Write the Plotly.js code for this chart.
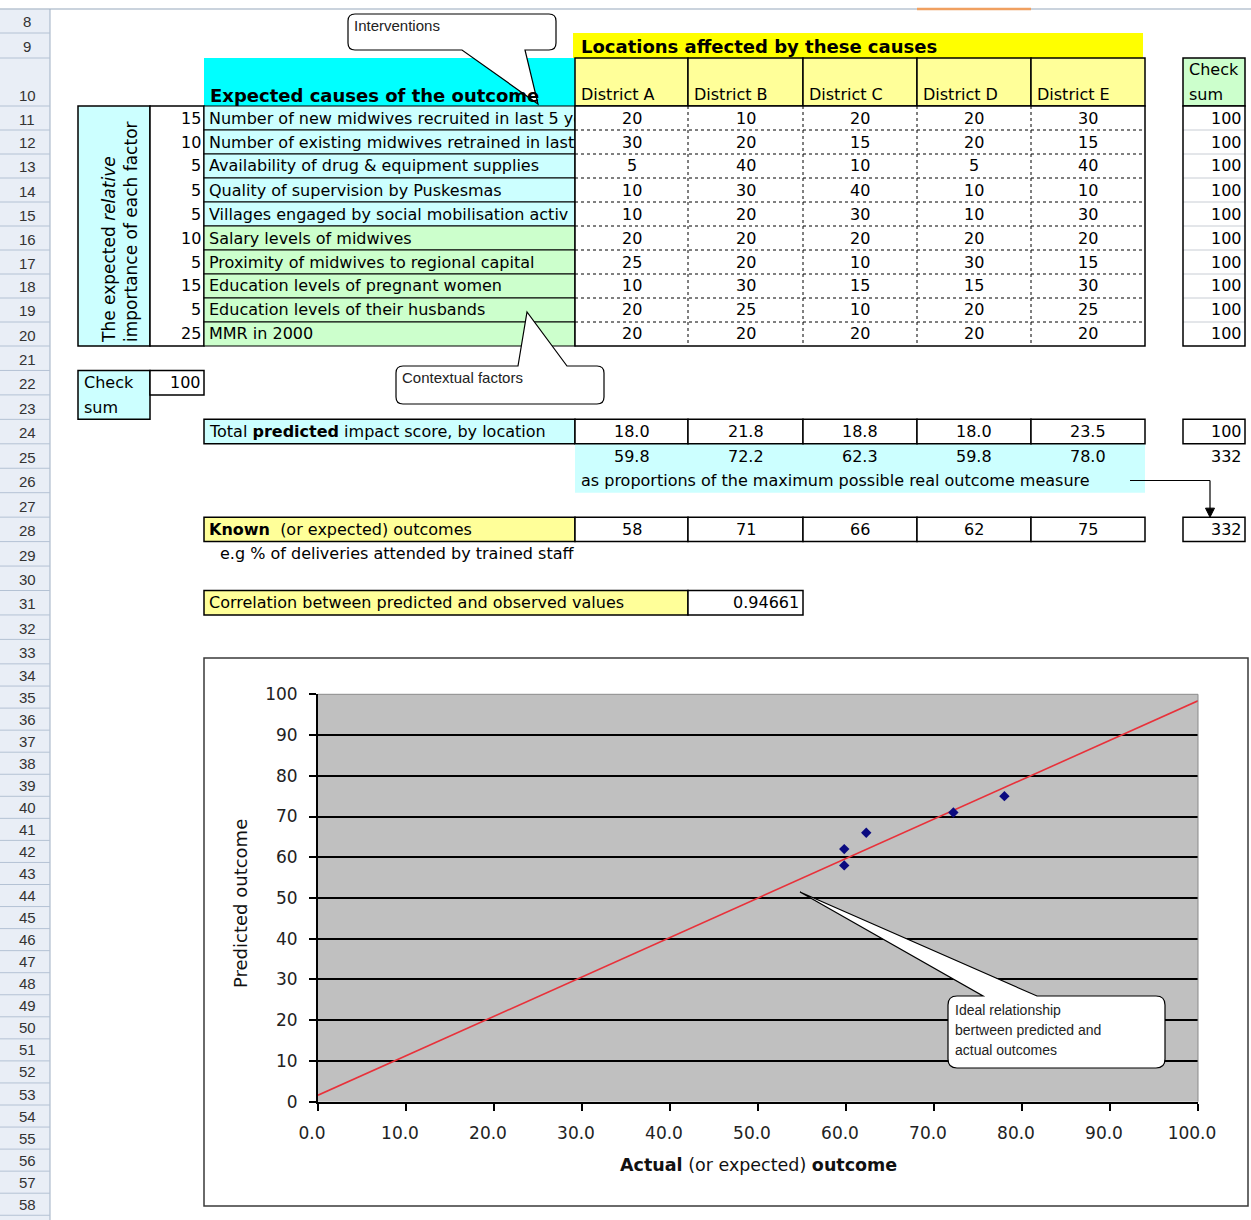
<!DOCTYPE html>
<html><head><meta charset="utf-8">
<script src="https://cdn.plot.ly/plotly-3.0.1.min.js"></script>
<style>html,body{margin:0;padding:0;background:#fff}#chart{width:1251px;height:1220px}</style>
</head><body><div id="chart"></div>
<script>
// ---------------- DATA ----------------
const districts = ['District A','District B','District C','District D','District E'];
const causes = [
  'Number of new midwives recruited in last 5 ye',
  'Number of existing midwives retrained in last',
  'Availability of drug & equipment supplies',
  'Quality of supervision by Puskesmas',
  'Villages engaged by social mobilisation activ',
  'Salary levels of midwives',
  'Proximity of midwives to regional capital',
  'Education levels of pregnant women',
  'Education levels of their husbands',
  'MMR in 2000'
];
const weights = [15,10,5,5,5,10,5,15,5,25];
const districtA = [20,30,5,10,10,20,25,10,20,20];
const districtB = [10,20,40,30,20,20,20,30,25,20];
const districtC = [20,15,10,40,30,20,10,15,10,20];
const districtD = [20,20,5,10,10,20,30,15,20,20];
const districtE = [30,15,40,10,30,20,15,30,25,20];
const rowCheckSums = [100,100,100,100,100,100,100,100,100,100];
const weightCheckSum = 100;
const totalImpact = [18.0,21.8,18.8,18.0,23.5];
const totalImpactCheck = 100;
const proportions = [59.8,72.2,62.3,59.8,78.0];
const proportionsSum = 332;
const knownOutcomes = [58,71,66,62,75];
const knownSum = 332;
const correlation = 0.94661;
const idealX = [0,100];
const idealY = [1.6,98.4];
const xTicks = [0,10,20,30,40,50,60,70,80,90,100];
const yTicks = [0,10,20,30,40,50,60,70,80,90,100];
const firstRow = 8, lastRow = 58;

// ---------------- LAYOUT HELPERS ----------------
const W=1251,H=1220;
const X=p=>p/W, Y=p=>1-p/H;
const FONT='DejaVu Sans, Verdana, sans-serif';
const LFONT='Liberation Sans, Arial, sans-serif';
const BOLD='DejaVu Sans, Verdana, sans-serif';
const shapes=[], annotations=[];
function rowTop(r){ if(r<=8) return 9; if(r===9) return 33; if(r===10) return 58; if(r<=21) return 106+(r-11)*24; if(r<=34) return 346+(r-21)*24.45; return 664+(r-34)*22.05; }
const rowMid=r=>(rowTop(r)+rowTop(r+1))/2;
function R(x0,y0,x1,y1,fill,lc,lw,dash,layer){
  shapes.push({type:'rect',xref:'paper',yref:'paper',x0:X(x0),x1:X(x1),y0:Y(y1),y1:Y(y0),
    fillcolor:fill||'rgba(0,0,0,0)',line:{color:lc||'rgba(0,0,0,0)',width:lw===undefined?0:lw,dash:dash||'solid'},layer:layer||'below'});
}
function L(x0,y0,x1,y1,c,w,dash,layer){
  shapes.push({type:'line',xref:'paper',yref:'paper',x0:X(x0),y0:Y(y0),x1:X(x1),y1:Y(y1),line:{color:c,width:w,dash:dash||'solid'},layer:layer||'below'});
}
function P(cmds,fill,lc,lw,layer){
  let s='';
  cmds.forEach(c=>{
    if(c[0]==='Z'){s+='Z';return;}
    s+=c[0]+' '+X(c[1])+','+Y(c[2])+' ';
    if(c.length>3) s+=X(c[3])+','+Y(c[4])+' ';
  });
  shapes.push({type:'path',xref:'paper',yref:'paper',path:s,fillcolor:fill,line:{color:lc,width:lw},layer:layer||'above'});
}
function T(x,y,s,o){
  o=o||{};
  const a={xref:'paper',yref:'paper',x:X(x),y:Y(y),text:String(s),showarrow:false,
    xanchor:o.a||'left',yanchor:o.ya||'middle',align:o.al||'left',borderpad:0,
    font:{family:o.f||FONT,size:o.s||16,color:o.c||'#000'},textangle:o.r||0};
  if(o.w) a.width=o.w;
  annotations.push(a);
}
function callout(x0,y0,x1,y1,r,side,b1,b2,tx,ty){
  const c=[['M',x0+r,y0]];
  if(side==='top'){ c.push(['L',b1,y0],['L',tx,ty],['L',b2,y0]); }
  c.push(['L',x1-r,y0],['Q',x1,y0,x1,y0+r],['L',x1,y1-r],['Q',x1,y1,x1-r,y1]);
  if(side==='bottom'){ c.push(['L',b2,y1],['L',tx,ty],['L',b1,y1]); }
  c.push(['L',x0+r,y1],['Q',x0,y1,x0,y1-r],['L',x0,y0+r],['Q',x0,y0,x0+r,y0],['Z']);
  P(c,'#ffffff','#000000',1.2,'above');
}

// ---------------- ROW HEADERS ----------------
R(0,9,50,H,'#e9eef6');
L(0,9,W,9,'#b8c4d2',1.5);
L(917,9,1031,9,'#f0a060',2.5);
L(50,9,50,H,'#9fb0c4',1);
for(let r=firstRow;r<=lastRow;r++){
  L(0,rowTop(r+1),50,rowTop(r+1),'#b4c2d4',1);
  T(27,rowTop(r+1)-11,r,{a:'center',s:15,c:'#333',f:LFONT});
}

// ---------------- TABLE ----------------
const colEdges=[575,688,803,917,1031,1145];
const dData=[districtA,districtB,districtC,districtD,districtE];
R(573,33,1143,58,'#ffff00');
T(580,47,'<b>Locations affected by these causes</b>',{f:BOLD,s:18});
R(204,58,575,106,'#00ffff');
T(209,95,'<b>Expected causes of the outcome</b>',{f:BOLD,s:18});
for(let i=0;i<5;i++){
  R(colEdges[i],58,colEdges[i+1],106,'#ffff99','#000',1.5);
  T(colEdges[i]+5,94,districts[i]);
}
R(1183,58,1245,106,'#ccffcc','#000',1.5);
T(1188,70,'Check'); T(1188,94,'sum');

// left rotated label box
R(78,106,150,346,'#ccffff','#000',1.5);
T(120,232,'The expected <i>relative</i><br>importance of each factor',{r:-90,a:'center',al:'left',s:17});
R(150,106,204,346,'#ffffff','#000',1.5);
for(let i=0;i<weights.length;i++){
  const r=11+i;
  T(202,rowMid(r),weights[i],{a:'right'});
  R(204,rowTop(r),575,rowTop(r+1),i<5?'#ccffff':'#ccffcc','#000',1.2);
  T(208,rowMid(r),causes[i],{w:366});
}
// district values
R(575,106,1145,346,'#ffffff');
for(let r=12;r<=20;r++) L(575,rowTop(r),1145,rowTop(r),'#000',1,'dot');
for(let c=1;c<5;c++) L(colEdges[c],106,colEdges[c],346,'#000',1,'dot');
R(575,106,1145,346,null,'#000',1.5);
for(let d=0;d<5;d++){
  const cx=(colEdges[d]+colEdges[d+1])/2;
  dData[d].forEach((v,i)=>T(cx,rowMid(11+i),v,{a:'center'}));
}
// row check sums
R(1183,106,1245,346,'#ffffff');
for(let r=12;r<=20;r++) L(1183,rowTop(r),1245,rowTop(r),'#c8cdd4',1);
R(1183,106,1245,346,null,'#000',1.5);
rowCheckSums.forEach((v,i)=>T(1243,rowMid(11+i),v,{a:'right'}));

// weight check sum
R(78,rowTop(22),150,rowTop(24),'#ccffff','#000',1.5);
T(83,rowMid(22),'Check'); T(83,rowMid(23),'sum');
R(150,rowTop(22),204,rowTop(23),'#ffffff','#000',1.5);
T(202,rowMid(22),weightCheckSum,{a:'right'});

// total predicted impact
R(204,rowTop(24),575,rowTop(25),'#ccffff','#000',1.5);
T(208,rowMid(24),'Total <b>predicted</b> impact score, by location');
R(575,rowTop(25),1145,rowTop(27),'#ccffff');
for(let d=0;d<5;d++){
  const cx=(colEdges[d]+colEdges[d+1])/2;
  R(colEdges[d],rowTop(24),colEdges[d+1],rowTop(25),'#ffffff','#000',1.5);
  T(cx,rowMid(24),totalImpact[d].toFixed(1),{a:'center'});
  T(cx,rowMid(25),proportions[d].toFixed(1),{a:'center'});
}
R(1183,rowTop(24),1245,rowTop(25),'#ffffff','#000',1.5);
T(1243,rowMid(24),totalImpactCheck,{a:'right'});
T(1243,rowMid(25),proportionsSum,{a:'right'});
T(580,rowMid(26),'as proportions of the maximum possible real outcome measure');
// arrow
L(1130,rowMid(26),1210,rowMid(26),'#000',1.2);
L(1210,rowMid(26),1210,rowTop(28)-7,'#000',1.2);
P([['M',1205.5,rowTop(28)-9],['L',1214.5,rowTop(28)-9],['L',1210,rowTop(28)],['Z']],'#000','#000',1,'below');

// known outcomes
R(204,rowTop(28),575,rowTop(29),'#ffff99','#000',1.5);
T(208,rowMid(28),'<b>Known</b>  (or expected) outcomes');
for(let d=0;d<5;d++){
  const cx=(colEdges[d]+colEdges[d+1])/2;
  R(colEdges[d],rowTop(28),colEdges[d+1],rowTop(29),'#ffffff','#000',1.5);
  T(cx,rowMid(28),knownOutcomes[d],{a:'center'});
}
R(1183,rowTop(28),1245,rowTop(29),'#ffffff','#000',1.5);
T(1243,rowMid(28),knownSum,{a:'right'});
T(219,rowMid(29),'e.g % of deliveries attended by trained staff');

// correlation
R(204,rowTop(31),688,rowTop(32),'#ffff99','#000',1.5);
T(208,rowMid(31),'Correlation between predicted and observed values');
R(688,rowTop(31),803,rowTop(32),'#ffffff','#000',1.5);
T(800,rowMid(31),correlation.toFixed(5),{a:'right'});

// callouts
callout(348,14,556,50,7,'bottom',462,525,538,104);
T(353,26,'Interventions',{s:15,c:'#222',f:LFONT});
callout(396,366,604,404,7,'top',518,567,527,312);
T(401,378,'Contextual factors',{s:15,c:'#222',f:LFONT});

// chart frame
R(204,658,1248,1206,null,'#3a3a3a',1.5);
callout(948,996,1165,1068,9,'top',983,1037,800,892);
T(954,1010,'Ideal relationship',{s:14,c:'#222',f:LFONT});
T(954,1030,'bertween predicted and',{s:14,c:'#222',f:LFONT});
T(954,1050,'actual outcomes',{s:14,c:'#222',f:LFONT});
T(240,904,'Predicted outcome',{r:-90,a:'center',s:18,c:'#111'});
T(758,1165,'<b>Actual</b> (or expected) <b>outcome</b>',{a:'center',s:17.5,c:'#111'});

// plot-area border (top/right grey)
shapes.push({type:'line',xref:'x domain',yref:'y domain',x0:0,x1:1,y0:1,y1:1,line:{color:'#8a8a8a',width:1},layer:'above'});
shapes.push({type:'line',xref:'x domain',yref:'y domain',x0:1,x1:1,y0:0,y1:1,line:{color:'#8a8a8a',width:1},layer:'above'});

// ---------------- TRACES ----------------
const traces=[
  {type:'scatter',mode:'lines',x:idealX,y:idealY,line:{color:'#e8313a',width:1.6},hoverinfo:'skip',showlegend:false},
  {type:'scatter',mode:'markers',x:proportions,y:knownOutcomes,marker:{symbol:'diamond',size:8,color:'#0a0a80'},showlegend:false}
];
const tickFont={family:'DejaVu Sans, Arial, sans-serif',size:17,color:'#222'};
const layout={
  width:W,height:H,autosize:false,margin:{l:0,r:0,t:0,b:0},
  paper_bgcolor:'#ffffff',plot_bgcolor:'#c0c0c0',showlegend:false,
  xaxis:{domain:[X(318),X(1198)],range:[0,100],tickvals:xTicks,ticktext:xTicks.map(v=>v.toFixed(1)),
    ticks:'outside',ticklen:7,tickwidth:2,tickcolor:'#000',showline:true,linecolor:'#000',linewidth:2,
    showgrid:false,zeroline:false,tickfont:tickFont,ticklabelshift:-6,ticklabelstandoff:8,fixedrange:true},
  yaxis:{domain:[Y(1101.7),Y(694.3)],range:[0,100],tickvals:yTicks,ticktext:yTicks.map(String),
    ticks:'outside',ticklen:7,tickwidth:2,tickcolor:'#000',showline:true,linecolor:'#000',linewidth:2,
    showgrid:true,gridcolor:'#000',gridwidth:2,zeroline:false,tickfont:tickFont,ticklabelstandoff:8,fixedrange:true},
  shapes:shapes,annotations:annotations
};
Plotly.newPlot('chart',traces,layout,{staticPlot:true,displayModeBar:false});
</script></body></html>
